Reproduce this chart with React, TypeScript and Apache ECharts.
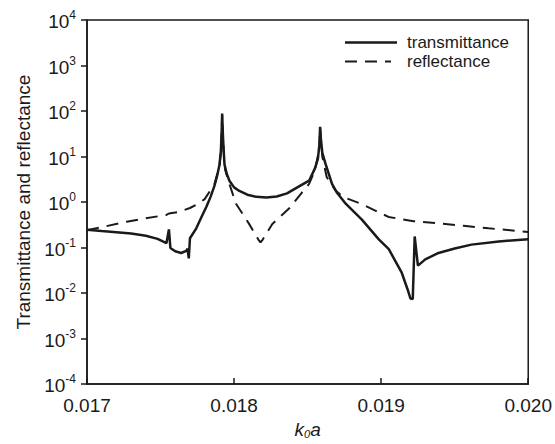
import React, { useEffect, useRef } from "react";
import * as echarts from "echarts";

// k0a (x) vs transmittance / reflectance (y, log scale)
const TRANSMITTANCE: [number, number][] = [
  [0.017, 0.245], [0.0171, 0.23], [0.0172, 0.218], [0.0173, 0.203], [0.0174, 0.182],
  [0.01748, 0.155], [0.01754, 0.125], [0.017557, 0.25], [0.017567, 0.098], [0.0176, 0.083],
  [0.01764, 0.076], [0.017675, 0.085], [0.017684, 0.094], [0.017692, 0.058], [0.0177, 0.16],
  [0.017743, 0.265], [0.01778, 0.48], [0.017811, 0.78], [0.01784, 1.3], [0.017867, 2.3],
  [0.017885, 3.8], [0.017901, 6.7], [0.01791, 13], [0.017915, 30], [0.017919, 88],
  [0.017924, 30], [0.017929, 14], [0.017935, 6.7], [0.01795, 4.2], [0.017968, 2.95],
  [0.018, 2.1], [0.018036, 1.75], [0.01809, 1.45], [0.01815, 1.3], [0.01822, 1.26],
  [0.01829, 1.32], [0.01836, 1.55], [0.01843, 2.1], [0.01851, 2.95], [0.01855, 5.5],
  [0.01857, 9], [0.01858, 18], [0.018585, 45], [0.01859, 25], [0.0186, 12],
  [0.018623, 6.7], [0.018666, 2.5], [0.0187, 1.6], [0.018759, 0.92], [0.018869, 0.41],
  [0.018984, 0.151], [0.019052, 0.092], [0.01914, 0.028], [0.01918, 0.012], [0.019199, 0.0076],
  [0.019215, 0.0074], [0.019228, 0.175], [0.01925, 0.04], [0.0193, 0.055], [0.01939, 0.076],
  [0.0195, 0.095], [0.019614, 0.116], [0.0198, 0.136], [0.02, 0.153],
];

const REFLECTANCE: [number, number][] = [
  [0.017, 0.24], [0.0171, 0.28], [0.01727, 0.37], [0.0174, 0.44], [0.01754, 0.52],
  [0.017557, 0.56], [0.01762, 0.6], [0.0177, 0.74], [0.01775, 0.9], [0.0178, 1.16],
  [0.017867, 2.5], [0.0179, 6], [0.01791, 12], [0.017919, 80], [0.01793, 12],
  [0.01794, 5], [0.01797, 2.4], [0.018013, 0.92], [0.0181, 0.34], [0.018165, 0.15],
  [0.01818, 0.13], [0.018195, 0.15], [0.01826, 0.33], [0.01837, 0.7], [0.01846, 1.6],
  [0.01851, 2.5], [0.01855, 5], [0.01858, 15], [0.018585, 42], [0.0186, 10],
  [0.01863, 3.5], [0.01869, 1.8], [0.01874, 1.3], [0.01887, 0.9], [0.01905, 0.47],
  [0.01922, 0.38], [0.01939, 0.34], [0.01956, 0.3], [0.01973, 0.265], [0.02, 0.22],
];

const SERIES_NAMES = ["transmittance", "reflectance"];
const X_RANGE = [0.017, 0.02];
const Y_RANGE = [1e-4, 1e4];

const FONT = "'Liberation Sans', Arial, sans-serif";
const INK = "#1a1a1a";

const SOLID_ICON = "path://M0,0H52V2.5H0Z";
const DASH_ICON = "path://M0,0H12V2.2H0Z M20,0H32V2.2H20Z M40,0H46V2.2H40Z M52,0H52.01V2.2H52Z";

export default function App() {
  const ref = useRef<HTMLDivElement>(null);

  useEffect(() => {
    document.body.style.margin = "0";
    if (!ref.current) return;
    const chart = echarts.init(ref.current, null, { renderer: "svg" });
    chart.setOption({
      animation: false,
      backgroundColor: "#ffffff",
      textStyle: { fontFamily: FONT, color: INK },
      grid: {
        left: 87,
        top: 20,
        width: 443,
        height: 370,
        show: true,
        borderColor: INK,
        borderWidth: 1.5,
        backgroundColor: "transparent",
      },
      legend: {
        orient: "vertical",
        left: 345,
        top: 33,
        padding: 0,
        itemWidth: 52,
        itemHeight: 2.5,
        itemGap: 0,
        data: [
          { name: SERIES_NAMES[0], icon: SOLID_ICON },
          { name: SERIES_NAMES[1], icon: DASH_ICON },
        ],
        textStyle: { fontSize: 17, lineHeight: 19, color: INK, fontFamily: FONT, padding: [0, 0, 0, 5] },
      },
      xAxis: {
        type: "value",
        min: X_RANGE[0],
        max: X_RANGE[1],
        interval: 0.001,
        name: "{i|k}{sub|0}{i|a}",
        nameLocation: "middle",
        nameGap: 31,
        nameTextStyle: {
          rich: {
            i: { fontSize: 19, fontStyle: "italic", fontFamily: FONT, color: INK, lineHeight: 22, verticalAlign: "bottom" },
            sub: { fontSize: 11, fontStyle: "italic", fontFamily: FONT, color: INK, lineHeight: 14, verticalAlign: "bottom" },
          },
        },
        axisLine: { show: true, lineStyle: { color: INK, width: 1.5 } },
        axisTick: { show: true, inside: true, length: 6, lineStyle: { color: INK, width: 1.5 } },
        axisLabel: {
          fontSize: 19,
          color: INK,
          fontFamily: FONT,
          margin: 12,
          formatter: (v: number) => v.toFixed(3),
        },
        splitLine: { show: false },
      },
      yAxis: {
        type: "log",
        logBase: 10,
        min: Y_RANGE[0],
        max: Y_RANGE[1],
        interval: 1,
        name: "Transmittance and reflectance",
        nameLocation: "middle",
        nameGap: 53,
        nameTextStyle: { fontSize: 19, color: INK, fontFamily: FONT },
        axisLine: { show: true, lineStyle: { color: INK, width: 1.5 } },
        axisTick: { show: true, inside: false, length: 6, lineStyle: { color: INK, width: 1.5 } },
        axisLabel: {
          margin: 11,
          formatter: (v: number) => `{b|10}{s|${Math.round(Math.log10(v))}}`,
          rich: {
            b: { fontSize: 19, color: INK, fontFamily: FONT, lineHeight: 22, verticalAlign: "bottom" },
            s: { fontSize: 12, color: INK, fontFamily: FONT, lineHeight: 22, verticalAlign: "top", padding: [0, 0, 10, 0] },
          },
        },
        splitLine: { show: false },
      },
      series: [
        {
          name: SERIES_NAMES[0],
          type: "line",
          data: TRANSMITTANCE,
          showSymbol: false,
          symbol: "none",
          z: 3,
          lineStyle: { color: INK, width: 2.5 },
          itemStyle: { color: INK },
        },
        {
          name: SERIES_NAMES[1],
          type: "line",
          data: REFLECTANCE,
          showSymbol: false,
          symbol: "none",
          z: 2,
          lineStyle: { color: INK, width: 2, type: [12, 8] },
          itemStyle: { color: INK },
        },
      ],
    });
    return () => chart.dispose();
  }, []);

  return <div ref={ref} style={{ width: 555, height: 444 }} />;
}
